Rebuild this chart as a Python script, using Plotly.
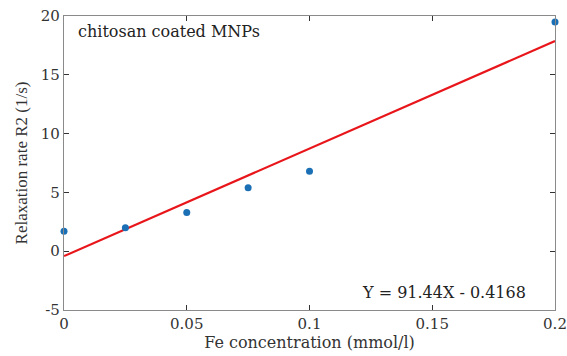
import plotly.graph_objects as go
import numpy as np

fe_conc = [0, 0.025, 0.05, 0.075, 0.1, 0.2]
r2_rate = [1.7, 2.0, 3.3, 5.4, 6.8, 19.5]
slope = 91.44
intercept = -0.4168
x_ticks = [0, 0.05, 0.1, 0.15, 0.2]
x_tick_labels = ["0", "0.05", "0.1", "0.15", "0.2"]
y_ticks = [-5, 0, 5, 10, 15, 20]
y_tick_labels = ["-5", "0", "5", "10", "15", "20"]

fit_x = np.array([0, 0.2])
fit_y = slope * fit_x + intercept

fig = go.Figure()
fig.add_trace(go.Scatter(x=fit_x, y=fit_y, mode="lines",
                         line=dict(color="#e8161b", width=2.2), showlegend=False))
fig.add_trace(go.Scatter(x=fe_conc, y=r2_rate, mode="markers",
                         marker=dict(color="#1a6fb5", size=7), showlegend=False, cliponaxis=False))

font = "DejaVu Serif, serif"
font_y = "Liberation Serif, Times New Roman, serif"
axis_common = dict(showgrid=False, zeroline=False, showline=True, linecolor="#8a8a8a",
                   linewidth=1.3, mirror="ticks", ticks="inside", ticklen=5, automargin=False,
                   tickcolor="#333333", tickfont=dict(family=font, size=15, color="#333333"))

fig.update_layout(
    width=567, height=356,
    margin=dict(l=64, r=12, t=16, b=46),
    plot_bgcolor="white", paper_bgcolor="white",
    xaxis=dict(range=[0, 0.2], tickvals=x_ticks, ticktext=x_tick_labels,
               title=dict(text="Fe concentration (mmol/l)", font=dict(family=font, size=16, color="#333333"), standoff=3),
               **axis_common),
    yaxis=dict(range=[-5, 20], tickvals=y_ticks, ticktext=y_tick_labels,
               title=dict(text="Relaxation rate R2 (1/s)", font=dict(family=font_y, size=17, color="#333333"), standoff=8),
               **axis_common),
    annotations=[
        dict(x=0.005, y=18.7, xref="x", yref="y", text="chitosan coated MNPs", showarrow=False,
             xanchor="left", yanchor="middle", font=dict(family=font, size=16, color="#222222")),
        dict(x=0.189, y=-3.5, xref="x", yref="y", text="Y = 91.44X - 0.4168", showarrow=False,
             xanchor="right", yanchor="middle", font=dict(family=font, size=16, color="#222222")),
    ],
)

fig.write_html("out.html")
